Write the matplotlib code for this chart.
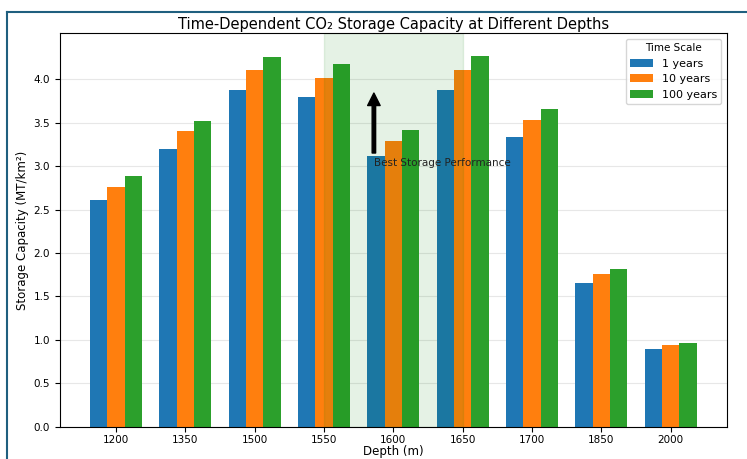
import numpy as np
import matplotlib
matplotlib.use('Agg')
import matplotlib.pyplot as plt
from matplotlib.lines import Line2D

# datos
depths = ['1200', '1350', '1500', '1550', '1600', '1650', '1700', '1850', '2000']
cap_1yr = [2.61, 3.20, 3.87, 3.79, 3.11, 3.88, 3.33, 1.66, 0.90]
cap_10yr = [2.76, 3.40, 4.10, 4.01, 3.29, 4.11, 3.53, 1.76, 0.94]
cap_100yr = [2.88, 3.52, 4.26, 4.17, 3.41, 4.27, 3.66, 1.82, 0.97]
series_labels = ['1 years', '10 years', '100 years']
yticks = [0.0, 0.5, 1.0, 1.5, 2.0, 2.5, 3.0, 3.5, 4.0]

x = np.arange(len(depths))
w = 0.25

fig = plt.figure(figsize=(7.47, 4.59), dpi=100)
ax = fig.add_axes([0.080, 0.070, 0.893, 0.858])

ax.bar(x - w, cap_1yr, w, color='#1f77b4', label=series_labels[0])
ax.bar(x, cap_10yr, w, color='#ff7f0e', label=series_labels[1])
ax.bar(x + w, cap_100yr, w, color='#2ca02c', label=series_labels[2])

# zona optima sombreada
ax.axvspan(3, 5, color='green', alpha=0.1)

# flecha + texto
ax.annotate('', xy=(3.72, 3.84), xytext=(3.72, 3.15),
            arrowprops=dict(facecolor='black', edgecolor='black', width=2.5, headwidth=9, headlength=9))
ax.text(3.72, 3.03, 'Best Storage Performance', fontsize=7.5, va='center', ha='left', color='#222222')

ax.set_ylim(0, 4.53)
ax.set_yticks(yticks)
ax.set_yticklabels(['%.1f' % v for v in yticks])
ax.set_xticks(x)
ax.set_xticklabels(depths, fontsize=7.5)
ax.tick_params(axis='y', labelsize=7.5)
ax.tick_params(axis='x', pad=2)
ax.set_xlabel('Depth (m)', fontsize=8.5, labelpad=0)
ax.set_ylabel('Storage Capacity (MT/km²)', fontsize=8.5, labelpad=3)
ax.set_title('Time-Dependent CO₂ Storage Capacity at Different Depths', fontsize=10.5, pad=3)
ax.grid(axis='y', alpha=0.3)
ax.set_axisbelow(True)
ax.legend(title='Time Scale', loc='upper right', fontsize=8, title_fontsize=7.5)

# borde de la captura
fig.add_artist(Line2D([7/747, 7/747], [0, 1 - 12/459], color='#1f5f7f', lw=1.5))
fig.add_artist(Line2D([7/747, 1], [1 - 12/459, 1 - 12/459], color='#1f5f7f', lw=1.5))

fig.savefig('out.png', dpi=100)
